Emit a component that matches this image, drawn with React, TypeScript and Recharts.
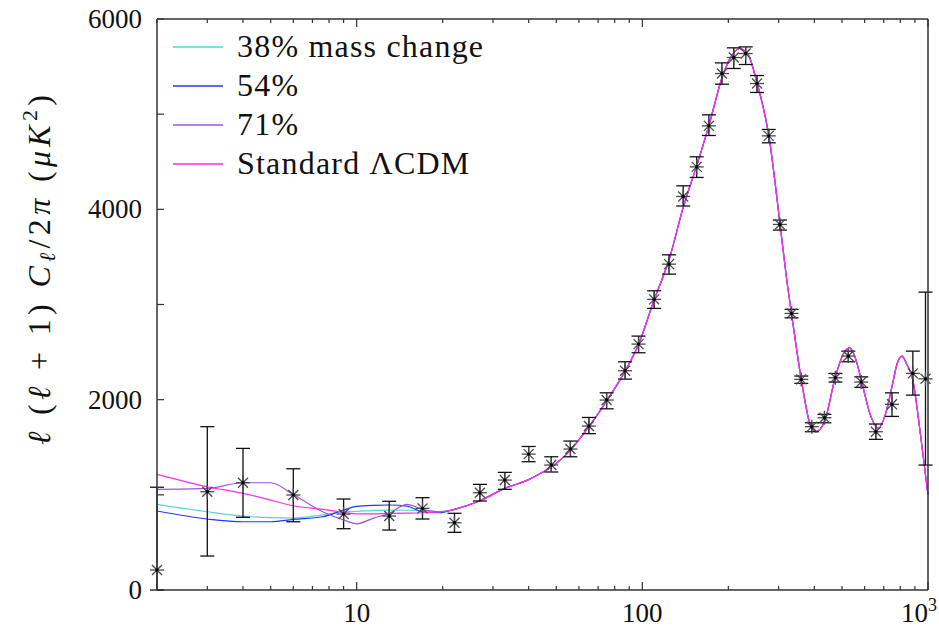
import { ComposedChart, Line, Scatter, ErrorBar, XAxis, YAxis, Legend } from 'recharts';

// multipole values where the model curves are sampled
const LOW_ELL = [2, 3, 4, 5, 6, 7.6, 9, 10, 11.4, 13, 15, 17, 19.5];
const HIGH_ELL = [
  22, 27, 33, 40, 44, 48, 56, 65, 75, 87, 97, 110, 124, 139, 155, 171, 190, 205, 219, 235,
  252, 277, 303, 319, 333, 360, 385, 405, 434, 474, 505, 531, 555, 584, 630, 671, 710, 748,
  780, 811, 840, 885, 937, 1000,
];

// low-l part differs between models
const M38_LOW = [900, 822, 777, 760, 756, 790, 822, 826, 835, 840, 838, 833, 822];
const M54_LOW = [830, 746, 717, 717, 742, 770, 840, 878, 890, 893, 882, 822, 812];
const M71_LOW = [1058, 1068, 1127, 1127, 1004, 822, 735, 695, 753, 805, 900, 848, 822];
const LCDM_LOW = [1215, 1085, 1015, 945, 885, 848, 815, 800, 800, 805, 808, 812, 822];

// above l ~ 20 all four curves sit on top of each other
const SHARED_HIGH = [
  848, 938, 1068, 1160, 1226, 1292, 1470, 1716, 1988, 2300, 2580, 3050, 3470, 4020, 4460,
  4880, 5380, 5610, 5690, 5620, 5330, 4780, 3860, 3300, 2900, 2213, 1760, 1663, 1768, 2240,
  2480, 2545, 2450, 2206, 1830, 1699, 1850, 2136, 2380, 2458, 2380, 2206, 1681, 998,
];

// measured band powers
const POINT_ELL = [
  2, 3, 4, 6, 9, 13, 17, 22, 27, 33, 40, 48, 56, 65, 75, 87, 97, 110, 124, 139, 155, 171,
  190, 209, 230, 252, 277, 303, 333, 360, 392, 434, 474, 526, 584, 657, 748, 885, 980,
];
const POINT_CL = [
  210, 1033, 1127, 998, 798, 777, 858, 707, 1022, 1155, 1428, 1313, 1481, 1723, 1996, 2304,
  2584, 3054, 3424, 4135, 4446, 4877, 5427, 5595, 5637, 5322, 4772, 3841, 2906, 2213, 1716,
  1810, 2230, 2458, 2185, 1663, 1951, 2276, 2219,
];
const ERR_LOW = [
  210, 676, 363, 281, 154, 147, 112, 101, 87, 97, 80, 73, 81, 80, 92, 88, 91, 95, 105, 100,
  111, 101, 112, 115, 115, 94, 73, 59, 46, 42, 53, 53, 45, 60, 56, 80, 127, 228, 906,
];
const ERR_HIGH = [
  870, 683, 361, 276, 158, 155, 112, 99, 88, 81, 80, 87, 84, 90, 76, 94, 84, 90, 98, 112,
  106, 116, 112, 102, 70, 84, 67, 46, 43, 35, 41, 35, 45, 52, 55, 81, 121, 234, 911,
];

const SERIES_KEYS = ['m38', 'm54', 'm71', 'lcdm'];
const SERIES_NAMES = ['38% mass change', '54%', '71%', 'Standard ΛCDM'];
const SERIES_COLORS = ['#55d6d2', '#2038ff', '#a352e2', '#ff2ee6'];

const X_MAJOR = [10, 100, 1000];
const X_TICKS = [
  2, 3, 4, 5, 6, 7, 8, 9, 10, 20, 30, 40, 50, 60, 70, 80, 90, 100, 200, 300, 400, 500, 600,
  700, 800, 900, 1000,
];
const Y_TICKS = [0, 1000, 2000, 3000, 4000, 5000, 6000];
const Y_LABELED = [0, 2000, 4000, 6000];

const W = 939;
const H = 629;
const PL = 157;
const PR = 928;
const PT = 19;
const PB = 590;
const FONT = '"Liberation Serif", "DejaVu Serif", serif';
const AXIS = '#333';

const curveRows = [...LOW_ELL, ...HIGH_ELL].map((ell, i) => {
  const low = i < LOW_ELL.length;
  const j = i - LOW_ELL.length;
  return {
    ell,
    m38: low ? M38_LOW[i] : SHARED_HIGH[j],
    m54: low ? M54_LOW[i] : SHARED_HIGH[j],
    m71: low ? M71_LOW[i] : SHARED_HIGH[j],
    lcdm: low ? LCDM_LOW[i] : SHARED_HIGH[j],
  };
});

const pointRows = POINT_ELL.map((ell, i) => ({
  ell,
  cl: POINT_CL[i],
  err: [ERR_LOW[i], ERR_HIGH[i]],
}));

function BottomTick(props: any) {
  const { x, payload } = props;
  const v = payload.value;
  const major = X_MAJOR.includes(v);
  return (
    <g>
      <line x1={x} x2={x} y1={PB} y2={PB - (major ? 8 : 4)} stroke={AXIS} strokeWidth={1.2} />
      {major && v !== 1000 && (
        <text x={x} y={622} textAnchor="middle" fontSize={27} fontFamily={FONT} fill="#111">
          {v}
        </text>
      )}
      {v === 1000 && (
        <text x={x - 27} y={622} textAnchor="start" fontSize={27} fontFamily={FONT} fill="#111">
          10
          <tspan fontSize={18} dy={-11}>3</tspan>
        </text>
      )}
    </g>
  );
}

function TopTick(props: any) {
  const { x, payload } = props;
  const major = X_MAJOR.includes(payload.value);
  return <line x1={x} x2={x} y1={PT} y2={PT + (major ? 8 : 4)} stroke={AXIS} strokeWidth={1.2} />;
}

function LeftTick(props: any) {
  const { y, payload } = props;
  const v = payload.value;
  return (
    <g>
      <line x1={PL} x2={PL + 7} y1={y} y2={y} stroke={AXIS} strokeWidth={1.2} />
      {Y_LABELED.includes(v) && (
        <text x={142} y={y + 9} textAnchor="end" fontSize={27} fontFamily={FONT} fill="#111">
          {v}
        </text>
      )}
    </g>
  );
}

function RightTick(props: any) {
  const { y } = props;
  return <line x1={PR} x2={PR - 6} y1={y} y2={y} stroke={AXIS} strokeWidth={1.2} />;
}

function Star(props: any) {
  const { cx, cy } = props;
  const r = 7;
  const d = 5;
  return (
    <g stroke="#4a4a4a" strokeWidth={1.3}>
      <line x1={cx - r} y1={cy} x2={cx + r} y2={cy} />
      <line x1={cx} y1={cy - r} x2={cx} y2={cy + r} />
      <line x1={cx - d} y1={cy - d} x2={cx + d} y2={cy + d} />
      <line x1={cx - d} y1={cy + d} x2={cx + d} y2={cy - d} />
      <circle cx={cx} cy={cy} r={1.7} fill="#000" stroke="none" />
    </g>
  );
}

function KeyBox() {
  return (
    <div style={{ fontFamily: FONT, fontSize: 32, color: '#111', lineHeight: '39px' }}>
      {SERIES_NAMES.map((name, i) => (
        <div key={name} style={{ display: 'flex', alignItems: 'center', height: 39 }}>
          <svg width={50} height={4} style={{ display: 'block' }}>
            <line x1={0} x2={50} y1={2} y2={2} stroke={SERIES_COLORS[i]} strokeWidth={1.5} />
          </svg>
          <span style={{ marginLeft: 14, whiteSpace: 'nowrap', letterSpacing: 1.2 }}>{name}</span>
        </div>
      ))}
    </div>
  );
}

export default function App() {
  return (
    <div style={{ position: 'absolute', left: 0, top: 0, width: W, height: H, background: '#fff' }}>
      <ComposedChart
        width={W}
        height={H}
        data={curveRows}
        margin={{ top: PT - 10, right: W - PR - 5, bottom: H - PB - 30, left: PL - 60 }}
      >
        <XAxis
          xAxisId="b"
          dataKey="ell"
          type="number"
          scale="log"
          domain={[2, 1000]}
          ticks={X_TICKS}
          interval={0}
          height={30}
          tickLine={false}
          axisLine={{ stroke: AXIS, strokeWidth: 1.5 }}
          tick={(p: any) => <BottomTick {...p} />}
        />
        <XAxis
          xAxisId="t"
          orientation="top"
          dataKey="ell"
          type="number"
          scale="log"
          domain={[2, 1000]}
          ticks={X_TICKS}
          interval={0}
          height={10}
          tickLine={false}
          axisLine={{ stroke: AXIS, strokeWidth: 1.5 }}
          tick={(p: any) => <TopTick {...p} />}
        />
        <YAxis
          yAxisId="l"
          type="number"
          domain={[0, 6000]}
          ticks={Y_TICKS}
          interval={0}
          width={60}
          tickLine={false}
          axisLine={{ stroke: AXIS, strokeWidth: 1.5 }}
          tick={(p: any) => <LeftTick {...p} />}
        />
        <YAxis
          yAxisId="r"
          orientation="right"
          type="number"
          domain={[0, 6000]}
          ticks={Y_TICKS}
          interval={0}
          width={5}
          tickLine={false}
          axisLine={{ stroke: AXIS, strokeWidth: 1.5 }}
          tick={(p: any) => <RightTick {...p} />}
        />
        <Legend
          layout="vertical"
          align="center"
          verticalAlign="middle"
          wrapperStyle={{ left: 173, top: 27, width: 'auto', height: 'auto' }}
          content={() => <KeyBox />}
        />
        {SERIES_KEYS.map((key, i) => (
          <Line
            key={key}
            xAxisId="b"
            yAxisId="l"
            dataKey={key}
            name={SERIES_NAMES[i]}
            type="monotone"
            stroke={SERIES_COLORS[i]}
            strokeWidth={1.2}
            dot={false}
            isAnimationActive={false}
          />
        ))}
        <Scatter
          xAxisId="b"
          yAxisId="l"
          data={pointRows}
          dataKey="cl"
          shape={(p: any) => <Star {...p} />}
          isAnimationActive={false}
          legendType="none"
        >
          <ErrorBar dataKey="err" direction="y" width={7} stroke="#111" strokeWidth={1.3} />
        </Scatter>
        <text
          x={50}
          y={270}
          transform="rotate(-90 50 270)"
          textAnchor="middle"
          fontSize={32}
          fontFamily={FONT}
          fill="#111"
          textLength={350}
          lengthAdjust="spacing"
        >
          <tspan fontStyle="italic">ℓ</tspan>
          <tspan> (</tspan>
          <tspan fontStyle="italic">ℓ</tspan>
          <tspan> + 1) </tspan>
          <tspan fontStyle="italic">C</tspan>
          <tspan fontStyle="italic" fontSize={22} dy={5}>ℓ</tspan>
          <tspan dy={-5}>/2</tspan>
          <tspan fontStyle="italic">π</tspan>
          <tspan> (</tspan>
          <tspan fontStyle="italic">μK</tspan>
          <tspan fontSize={22} dy={-13}>2</tspan>
          <tspan dy={13}>)</tspan>
        </text>
      </ComposedChart>
    </div>
  );
}
